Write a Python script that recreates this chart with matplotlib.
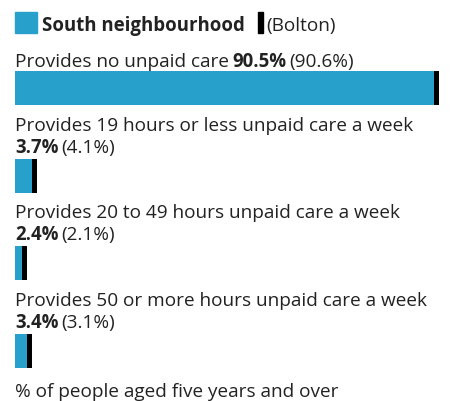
import matplotlib
matplotlib.use("Agg")
import matplotlib.pyplot as plt
from matplotlib.patches import Rectangle

plt.rcParams['font.family'] = ['Open Sans', 'DejaVu Sans']

# data
categories = ["Provides no unpaid care",
              "Provides 19 hours or less unpaid care a week",
              "Provides 20 to 49 hours unpaid care a week",
              "Provides 50 or more hours unpaid care a week"]
area_values = [90.5, 3.7, 2.4, 3.4]
bolton_values = [90.6, 4.1, 2.1, 3.1]
area_name = "South neighbourhood"
compare_name = "Bolton"
footnote = "% of people aged five years and over"

BLUE = '#27a0cc'
TEXT = '#222222'
FS = 13.7
FS_BOLD = 13.4

W, H = 453, 402
fig = plt.figure(figsize=(W / 100, H / 100), dpi=100)
left = 15
ax = fig.add_axes([left / W, 0, 1 - left / W, 1])
ax.axis('off')

# 90.5% bar is ~421px wide
ax.set_xlim(0, (W - left) / 4.652)
step = 87.7          # px between bars
first = 89           # px from top to first bar centre
ax.set_ylim((H - first) / step, -first / step)
bar_h = 34 / step

ys = list(range(len(categories)))
ax.barh(ys, area_values, height=bar_h, color=BLUE, zorder=2)
ax.barh(ys, [1.1] * len(ys), left=[v - 0.55 for v in bolton_values],
        height=bar_h, color='black', zorder=3)

renderer = fig.canvas.get_renderer()


def size(weight):
    return FS_BOLD if weight == 'bold' else FS


def text_w(s, weight='normal'):
    t = fig.text(0, 0, s, fontsize=size(weight), weight=weight)
    w = t.get_window_extent(renderer).width
    t.remove()
    return w


gap = 0.6 * (text_w("a a") - text_w("aa"))


def put(parts, x_px, y_px):
    # parts = [(string, weight), ...] drawn one after another on a baseline
    for s, w in parts:
        t = fig.text(x_px / W, y_px / H, s, fontsize=size(w), weight=w,
                     color=TEXT, va='baseline', ha='left')
        x_px = t.get_window_extent(renderer).x1 + gap
    return x_px


# legend
leg_y = H - 30.5
fig.add_artist(Rectangle((15 / W, (H - 34) / H), 22 / W, 21 / H,
                         transform=fig.transFigure, color=BLUE))
x = put([(area_name, 'bold')], 41.5, leg_y) - gap + 14
fig.add_artist(Rectangle((x / W, (H - 34) / H), 5 / W, 21 / H,
                         transform=fig.transFigure, color='black'))
put([("(" + compare_name + ")", 'normal')], x + 8, leg_y)

# labels above bars
x0 = ax.transData.transform((0, 0))[0]
for i, (lab, v, b) in enumerate(zip(categories, area_values, bolton_values)):
    top = ax.transData.transform((0, i - bar_h / 2))[1]
    vals = [(f"{v}%", 'bold'), (f"({b}%)", 'normal')]
    full = text_w(lab) + gap + text_w(vals[0][0], 'bold') + gap + text_w(vals[1][0])
    if full < W - x0:
        put([(lab, 'normal')] + vals, x0, top + 5)
    else:
        put([(lab, 'normal')], x0, top + 29)
        put(vals, x0, top + 7)

put([(footnote, 'normal')], x0, 5)

fig.savefig("out.png", dpi=100)
